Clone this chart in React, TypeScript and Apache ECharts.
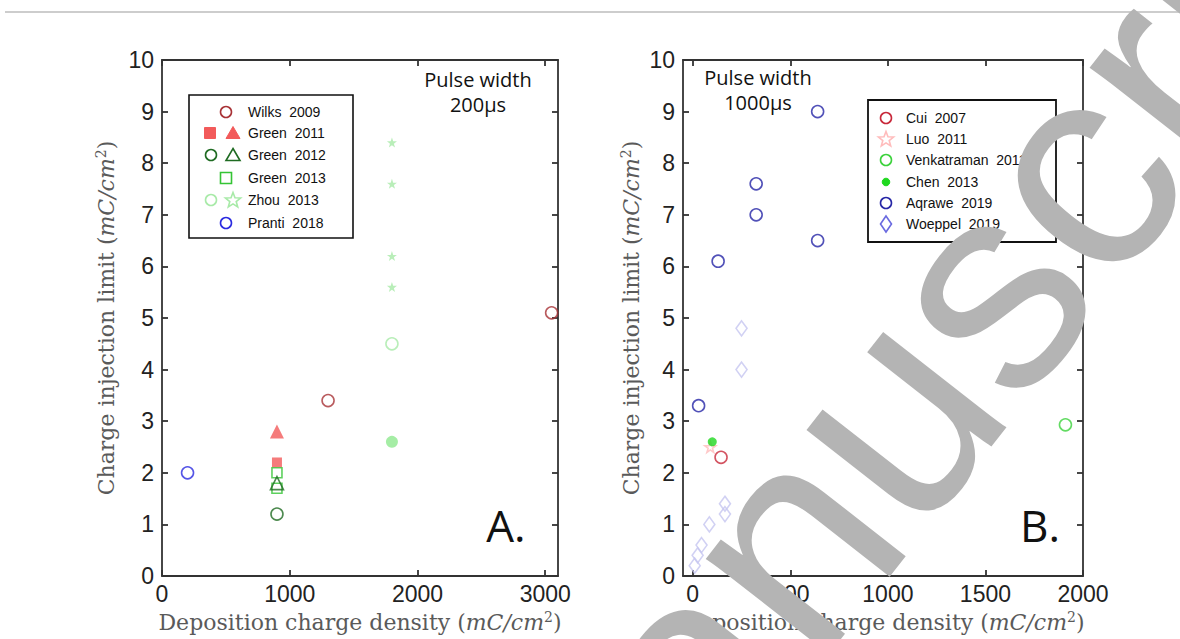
import React, { useEffect, useRef } from "react";
import * as echarts from "echarts";

// ---------- data ----------
// Panel A (pulse width 200 µs)
const wilks2009 = [[1300, 3.4], [3050, 5.1]];
const green2011Square = [[900, 2.2]];
const green2011Triangle = [[900, 2.8]];
const green2012Circle = [[900, 1.2]];
const green2012Triangle = [[900, 1.8]];
const green2013Square = [[900, 2.0], [900, 1.7]];
const zhou2013Circle = [[1800, 4.5]];
const zhou2013Dot = [[1800, 2.6]];
const zhou2013Star = [[1800, 8.4], [1800, 7.6], [1800, 6.2], [1800, 5.6]];
const pranti2018 = [[200, 2.0]];

// Panel B (pulse width 1000 µs)
const cui2007 = [[145, 2.3]];
const luo2011 = [[90, 2.5]];
const venkatraman2011 = [[1910, 2.93]];
const chen2013 = [[100, 2.6]];
const aqrawe2019 = [[30, 3.3], [130, 6.1], [325, 7.6], [325, 7.0], [640, 9.0], [640, 6.5]];
const woeppel2019 = [[250, 4.8], [250, 4.0], [165, 1.4], [165, 1.2], [85, 1.0], [45, 0.6], [25, 0.4], [10, 0.2]];

const yTicks = [0, 1, 2, 3, 4, 5, 6, 7, 8, 9, 10];
const xTicksA = [0, 1000, 2000, 3000];
const xTicksB = [0, 500, 1000, 1500, 2000];

const legendLabelsA = ["Wilks  2009", "Green  2011", "Green  2012", "Green  2013", "Zhou  2013", "Pranti  2018"];
const legendLabelsB = ["Cui  2007", "Luo  2011", "Venkatraman  2011", "Chen  2013", "Aqrawe  2019", "Woeppel  2019"];

const pulseA = "Pulse width\n200µs";
const pulseB = "Pulse width\n1000µs";

// ---------- styles ----------
const C = {
  wilks: "#a83236",
  green2011: "#f25a5a",
  green2012: "#1f6b22",
  green2013: "#35c435",
  zhou: "#a8eaa8",
  zhouDot: "#8fe88f",
  pranti: "#2a2ae0",
  cui: "#c8283a",
  luo: "#ffbcbc",
  venk: "#3cd23c",
  chen: "#1fd81f",
  aqrawe: "#2626a6",
  woeppel: "#c6c6f0",
  woeppelLegend: "#6a6ae0",
};

const STAR = "path://M50,2 L61.8,36 L97.6,36 L68.7,57.3 L79.4,91.5 L50,70.5 L20.6,91.5 L31.3,57.3 L2.4,36 L38.2,36 Z";

function openItem(color: string) {
  return { color: "rgba(0,0,0,0)", borderColor: color, borderWidth: 1.6 };
}

function starPoints(cx: number, cy: number, R: number) {
  const pts: number[][] = [];
  for (let i = 0; i < 10; i++) {
    const r = i % 2 === 0 ? R : R * 0.42;
    const a = -Math.PI / 2 + (i * Math.PI) / 5;
    pts.push([cx + r * Math.cos(a), cy + r * Math.sin(a)]);
  }
  return pts;
}

function marker(kind: string, cx: number, cy: number, color: string, filled: boolean): any {
  const style: any = filled
    ? { fill: color, stroke: color, lineWidth: 1 }
    : { fill: "none", stroke: color, lineWidth: 1.6 };
  if (kind === "circle") return { type: "circle", shape: { cx, cy, r: 5.5 }, style };
  if (kind === "dot") return { type: "circle", shape: { cx, cy, r: 3.8 }, style };
  if (kind === "rect") return { type: "rect", shape: { x: cx - 5.5, y: cy - 5.5, width: 11, height: 11 }, style };
  if (kind === "tri")
    return { type: "polygon", shape: { points: [[cx, cy - 6.5], [cx + 7, cy + 5.5], [cx - 7, cy + 5.5]] }, style };
  if (kind === "star") return { type: "polygon", shape: { points: starPoints(cx, cy + 0.5, 8) }, style };
  if (kind === "diamond")
    return { type: "polygon", shape: { points: [[cx, cy - 8], [cx + 5.5, cy], [cx, cy + 8], [cx - 5.5, cy]] }, style };
  return null;
}

const tickFont = "'Liberation Sans', Arial, sans-serif";
const serif = "'DejaVu Serif', 'Liberation Serif', serif";
const nameColor = "#5a5a5a";

function nameRich() {
  return {
    n: { fontFamily: serif, fontSize: 22, color: nameColor },
    it: { fontFamily: serif, fontSize: 22, fontStyle: "italic", color: nameColor },
    sup: { fontFamily: serif, fontSize: 14, color: nameColor, verticalAlign: "top", padding: [0, 0, 10, 0] },
  };
}

const axisLineStyle = { color: "#333", width: 1.8 };

export default function App() {
  const ref = useRef<HTMLDivElement>(null);

  useEffect(() => {
    if (!ref.current) return;
    const chart = echarts.init(ref.current, undefined, { renderer: "svg" });

    const bottomX = (grid: number, min: number, max: number, ticks: number[]) => ({
      type: "value",
      gridIndex: grid,
      position: "bottom",
      min,
      max,
      name: "{n|Deposition charge density (}{it|mC/cm}{sup|2}{n|)}",
      nameLocation: "middle",
      nameGap: 34,
      nameTextStyle: { rich: nameRich() },
      axisLine: { show: true, onZero: false, lineStyle: axisLineStyle },
      axisTick: { show: true, inside: true, length: 6, customValues: ticks, lineStyle: axisLineStyle },
      axisLabel: {
        show: true,
        customValues: ticks,
        margin: 6,
        fontSize: 23,
        fontFamily: tickFont,
        color: "#222",
        formatter: (v: number) => String(v),
      },
      splitLine: { show: false },
    });
    const topX = (grid: number, min: number, max: number, ticks: number[]) => ({
      type: "value",
      gridIndex: grid,
      position: "top",
      min,
      max,
      axisLine: { show: true, onZero: false, lineStyle: axisLineStyle },
      axisTick: { show: true, inside: true, length: 6, customValues: ticks, lineStyle: axisLineStyle },
      axisLabel: { show: false },
      splitLine: { show: false },
    });
    const leftY = (grid: number, gap: number) => ({
      type: "value",
      gridIndex: grid,
      position: "left",
      min: 0,
      max: 10,
      interval: 1,
      name: "{n|Charge injection limit (}{it|mC/cm}{sup|2}{n|)}",
      nameLocation: "middle",
      nameGap: gap,
      nameTextStyle: { rich: nameRich() },
      axisLine: { show: true, onZero: false, lineStyle: axisLineStyle },
      axisTick: { show: true, inside: true, length: 6, lineStyle: axisLineStyle },
      axisLabel: {
        show: true,
        margin: 8,
        fontSize: 23,
        fontFamily: tickFont,
        color: "#222",
        formatter: (v: number) => (yTicks.indexOf(v) >= 0 ? String(v) : ""),
      },
      splitLine: { show: false },
    });
    const rightY = (grid: number) => ({
      type: "value",
      gridIndex: grid,
      position: "right",
      min: 0,
      max: 10,
      interval: 1,
      axisLine: { show: true, onZero: false, lineStyle: axisLineStyle },
      axisTick: { show: true, inside: true, length: 6, lineStyle: axisLineStyle },
      axisLabel: { show: false },
      splitLine: { show: false },
    });

    const sc = (name: string, data: number[][], xi: number, yi: number, symbol: string, size: any, itemStyle: any, z = 3) => ({
      type: "scatter",
      name,
      data,
      xAxisIndex: xi,
      yAxisIndex: yi,
      symbol,
      symbolSize: size,
      itemStyle,
      z,
      silent: true,
    });

    const fill = (c: string) => ({ color: c, borderWidth: 0 });

    const series = [
      sc("Wilks 2009", wilks2009, 0, 0, "circle", 12, openItem(C.wilks)),
      sc("Green 2011", green2011Square, 0, 0, "rect", 10, fill(C.green2011)),
      sc("Green 2011", green2011Triangle, 0, 0, "triangle", 14, fill(C.green2011)),
      sc("Green 2012", green2012Circle, 0, 0, "circle", 12, openItem(C.green2012)),
      sc("Green 2013", green2013Square, 0, 0, "rect", 10, openItem(C.green2013)),
      sc("Green 2012", green2012Triangle, 0, 0, "triangle", 13, openItem(C.green2012)),
      sc("Zhou 2013", zhou2013Circle, 0, 0, "circle", 12, openItem(C.zhou)),
      sc("Zhou 2013", zhou2013Dot, 0, 0, "circle", 12, fill(C.zhouDot)),
      sc("Zhou 2013", zhou2013Star, 0, 0, STAR, 10, fill(C.zhou)),
      sc("Pranti 2018", pranti2018, 0, 0, "circle", 12, openItem(C.pranti)),

      sc("Luo 2011", luo2011, 2, 2, STAR, 11, openItem(C.luo)),
      sc("Woeppel 2019", woeppel2019, 2, 2, "diamond", [11, 15], openItem(C.woeppel)),
      sc("Cui 2007", cui2007, 2, 2, "circle", 12, openItem(C.cui)),
      sc("Venkatraman 2011", venkatraman2011, 2, 2, "circle", 12, openItem(C.venk)),
      sc("Chen 2013", chen2013, 2, 2, "circle", 9, fill(C.chen)),
      sc("Aqrawe 2019", aqrawe2019, 2, 2, "circle", 12, openItem(C.aqrawe)),
    ];

    // legends drawn as graphics
    const rowsA = [112, 133, 155, 178, 200, 223];
    const rowsB = [118, 139, 160, 182, 203, 224];
    const legendMarkersA: any[] = [
      [["circle", 226, C.wilks, false]],
      [["rect", 210, C.green2011, true], ["tri", 233, C.green2011, true]],
      [["circle", 211, C.green2012, false], ["tri", 233, C.green2012, false]],
      [["rect", 226, C.green2013, false]],
      [["circle", 211, C.zhou, false], ["star", 233, C.zhou, false]],
      [["circle", 226, C.pranti, false]],
    ];
    const legendMarkersB: any[] = [
      [["circle", 886, C.cui, false]],
      [["star", 886, C.luo, false]],
      [["circle", 886, C.venk, false]],
      [["dot", 886, C.chen, true]],
      [["circle", 886, C.aqrawe, false]],
      [["diamond", 886, C.woeppelLegend, false]],
    ];

    const graphics: any[] = [];
    graphics.push({
      type: "line",
      shape: { x1: 5, y1: 12, x2: 1180, y2: 12 },
      style: { stroke: "#bdbdbd", lineWidth: 1.5 },
      z: 1,
    });
    graphics.push({
      type: "rect",
      shape: { x: 189, y: 95, width: 164, height: 143 },
      style: { fill: "#fff", stroke: "#111", lineWidth: 1.6 },
      z: 10,
    });
    graphics.push({
      type: "rect",
      shape: { x: 868, y: 100, width: 188, height: 142 },
      style: { fill: "#fff", stroke: "#111", lineWidth: 1.8 },
      z: 10,
    });
    legendLabelsA.forEach((lab, i) => {
      legendMarkersA[i].forEach((m: any) => {
        const g = marker(m[0], m[1], rowsA[i], m[2], m[3]);
        g.z = 11;
        graphics.push(g);
      });
      graphics.push({
        type: "text",
        z: 11,
        style: {
          text: lab,
          x: 248,
          y: rowsA[i],
          fontSize: 14,
          fontFamily: tickFont,
          fill: "#111",
          textAlign: "left",
          textVerticalAlign: "middle",
        },
      });
    });
    legendLabelsB.forEach((lab, i) => {
      legendMarkersB[i].forEach((m: any) => {
        const g = marker(m[0], m[1], rowsB[i], m[2], m[3]);
        g.z = 11;
        graphics.push(g);
      });
      graphics.push({
        type: "text",
        z: 11,
        style: {
          text: lab,
          x: 906,
          y: rowsB[i],
          fontSize: 14,
          fontFamily: tickFont,
          fill: "#111",
          textAlign: "left",
          textVerticalAlign: "middle",
        },
      });
    });

    const annot = (text: string, x: number, y: number, size: number, lh: number) => ({
      type: "text",
      z: 9,
      style: {
        text,
        x,
        y,
        fontSize: size,
        lineHeight: lh,
        fontFamily: "'Open Sans', sans-serif",
        fill: "#111",
        textAlign: "center",
        textVerticalAlign: "top",
      },
    });
    graphics.push(annot(pulseA, 478, 67, 20, 25));
    graphics.push(annot(pulseB, 758, 65, 20, 25));
    graphics.push(annot("A.", 506, 500, 44, 50));
    graphics.push(annot("B.", 1040, 500, 44, 50));

    // watermark
    graphics.push({
      type: "text",
      z: 50,
      x: 928,
      y: 362,
      rotation: (52 * Math.PI) / 180,
      style: {
        text: "Manuscript",
        x: 0,
        y: 0,
        fontSize: 295,
        fontFamily: tickFont,
        fill: "#b4b4b4",
        textAlign: "center",
        textVerticalAlign: "middle",
      },
    });

    chart.setOption({
      animation: false,
      backgroundColor: "#fff",
      grid: [
        { left: 162, top: 60, width: 396, height: 516 },
        { left: 683, top: 60, width: 400, height: 516 },
      ],
      xAxis: [
        bottomX(0, 0, 3100, xTicksA),
        topX(0, 0, 3100, xTicksA),
        bottomX(1, -50, 2000, xTicksB),
        topX(1, -50, 2000, xTicksB),
      ],
      yAxis: [leftY(0, 44), rightY(0), leftY(1, 40), rightY(1)],
      series,
      graphic: graphics,
    });

    return () => chart.dispose();
  }, []);

  return (
    <div
      ref={ref}
      style={{ position: "absolute", left: 0, top: 0, width: 1180, height: 639, background: "#fff" }}
    />
  );
}
